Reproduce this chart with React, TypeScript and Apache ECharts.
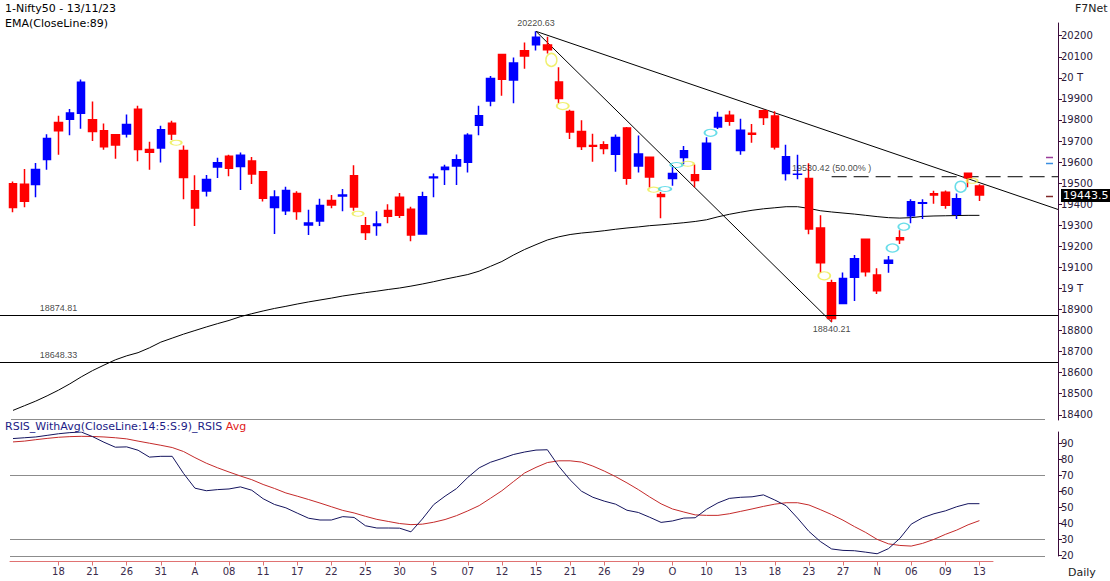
import React, { useEffect, useRef } from "react";
import * as echarts from "echarts";

const dates = [
  "2023-07-12","2023-07-13","2023-07-14","2023-07-17","2023-07-18","2023-07-19","2023-07-20","2023-07-21","2023-07-24","2023-07-25","2023-07-26","2023-07-27","2023-07-28","2023-07-31",
  "2023-08-01","2023-08-02","2023-08-03","2023-08-04","2023-08-07","2023-08-08","2023-08-09","2023-08-10","2023-08-11","2023-08-14","2023-08-16","2023-08-17","2023-08-18","2023-08-21","2023-08-22","2023-08-23","2023-08-24","2023-08-25","2023-08-28","2023-08-29","2023-08-30","2023-08-31",
  "2023-09-01","2023-09-04","2023-09-05","2023-09-06","2023-09-07","2023-09-08","2023-09-11","2023-09-12","2023-09-13","2023-09-14","2023-09-15","2023-09-18","2023-09-20","2023-09-21","2023-09-22","2023-09-25","2023-09-26","2023-09-27","2023-09-28","2023-09-29",
  "2023-10-03","2023-10-04","2023-10-05","2023-10-06","2023-10-09","2023-10-10","2023-10-11","2023-10-12","2023-10-13","2023-10-16","2023-10-17","2023-10-18","2023-10-19","2023-10-20","2023-10-23","2023-10-25","2023-10-26","2023-10-27","2023-10-30","2023-10-31",
  "2023-11-01","2023-11-02","2023-11-03","2023-11-06","2023-11-07","2023-11-08","2023-11-09","2023-11-10","2023-11-12","2023-11-13",
];

const openP = [
  19497.45,19495.2,19493.45,19612.15,19787.5,19802.95,19831.7,19800.45,19748.45,19729.35,19733.35,19850.9,19659.75,19666.35,
  19784,19655.4,19463.75,19462.8,19576.85,19627.2,19578.8,19605.55,19554.25,19383.95,19369,19450.55,19301.75,19320.65,19417.1,19439.2,19535.15,19297.4,19298.35,19370,19433.45,19375.55,
  19258.15,19525.05,19564.5,19581.2,19598.65,19774.8,19890,20110.15,19989.5,20127.95,20156.45,20155.95,19980.75,19840.55,19744.85,19678.2,19682.8,19637.05,19761.8,19581.2,
  19622.4,19446.3,19521.45,19621.2,19539.45,19565.65,19767,19822.7,19654.55,19737.25,19843.2,19819.3,19545.2,19542.15,19521.6,19286.45,19027.25,18928.75,19053.4,19232.95,
  19064.05,19120,19241,19345.6,19404.15,19449.6,19457.1,19351.85,19547.25,19486.85,
];
const highP = [
  19507.7,19567,19595.35,19731.85,19819.45,19851.7,19991.85,19887.4,19782.8,19729.35,19825.6,19867.55,19695.9,19772.75,
  19795.6,19678.25,19537.65,19538.85,19620.45,19634.4,19645.5,19623.6,19557.75,19465.85,19482.75,19461.55,19373.55,19425.95,19443.5,19472.05,19584.45,19339.55,19366.85,19400,19452.8,19388.2,
  19458.55,19545.15,19587.05,19636.45,19737,19867.15,20008.15,20110.35,20096.9,20167.65,20220.63,20195.35,20050.35,19848.75,19798.65,19734.15,19699.35,19730.7,19766.65,19726.25,
  19623.2,19457.8,19576.95,19675.75,19588.95,19717.8,19839.2,19843.65,19805.4,19781.3,19849.75,19840.95,19681.8,19635.3,19593.8,19347.3,19041.7,19076.15,19158.5,19233.7,
  19096.2,19154.2,19276.25,19423.5,19423.2,19463.9,19464.4,19451.3,19547.25,19494.4,
];
const lowP = [
  19361.75,19385.8,19433.1,19562.95,19634.45,19727.45,19758.4,19700,19658.3,19615.95,19716.7,19603.55,19563.1,19597.6,
  19704.6,19423.55,19296.45,19436.45,19524.8,19533.1,19467.5,19495.4,19412.75,19257.9,19348.25,19326.1,19253.6,19296.3,19381.3,19366.6,19369,19229.7,19249.7,19309.1,19334.75,19223.65,
  19255.7,19432.85,19490.75,19491.5,19550.05,19727.05,19865.35,19914.65,19879.85,20043.45,20129.7,20115.7,19878.85,19709.95,19657.5,19601.55,19637.45,19554,19492.1,19551.05,
  19479.65,19333.6,19487.3,19589.4,19480.5,19565.45,19756.95,19772.65,19635.3,19691.75,19775.65,19659.95,19512.35,19518.85,19257.85,19074.15,18840.21,18926.65,18940,19056.65,
  18973.7,19074.15,19210.9,19309.7,19329.1,19401.65,19378.65,19329.45,19480.5,19414.75,
];
const closeP = [
  19384.3,19413.75,19564.5,19711.45,19749.25,19833.15,19979.15,19745,19672.35,19680.6,19778.3,19659.9,19646.05,19753.8,
  19733.55,19526.55,19381.65,19517,19597.3,19570.85,19632.55,19543.1,19428.3,19434.55,19465,19365.25,19310.15,19393.6,19396.45,19444,19386.7,19265.8,19306.05,19342.65,19347.45,19253.8,
  19435.3,19528.8,19574.9,19611.05,19727.05,19819.95,19996.35,19993.2,20070,20103.1,20192.35,20133.3,19901.4,19742.35,19674.25,19674.55,19664.7,19716.45,19523.55,19638.3,
  19528.75,19436.1,19545.75,19653.5,19512.35,19689.85,19811.35,19794,19751.05,19731.75,19811.5,19671.1,19624.7,19542.65,19281.75,19122.15,18857.25,19047.25,19140.9,19079.6,
  18989.15,19133.25,19230.6,19411.75,19406.7,19443.5,19395.3,19425.35,19525.55,19443.5,
];

const ema89 = [
  18421,18443,18465,18490,18517,18547,18580,18610,18636,18661,18680,18695,18718,18745,18764,18783,18800,18817,18833,18848,
  18866,18880,18893,18905,18915,18926,18936,18945,18954,18964,18972,18980,18987,18995,19002,19011,19021,19032,19044,19055,
  19066,19082,19105,19128,19158,19185,19208,19230,19245,19256,19263,19268,19274,19281,19287,19292,19298,19302,19307,19312,
  19318,19326,19340,19352,19362,19371,19378,19383,19388,19388,19380,19369,19363,19358,19353,19347,19341,19336,19334,19336,
  19342,19344,19345,19346,19347,19347,
];

const rsis = [
  92.8,93.3,93.8,94.8,95.8,96.5,96.9,94,90.5,87.4,87.6,85.5,81.2,81.7,81.7,71,61.8,60.2,60.9,61.3,
  62.6,60.5,55.2,51.6,49.5,46.2,43,41.9,41.9,44,43.5,38.3,36.9,36.9,36.8,34.5,42.5,51.5,56.8,61.5,
  68.5,74.5,78,80.3,82.8,84.4,85.6,85.8,75.5,67,59.9,56.1,53.7,51.8,48,46.6,43.6,40.4,41.3,43.1,
  43.3,48.6,52.6,55.4,56.1,56.4,57.6,54.4,50.8,43.1,34.8,28.5,23.8,22.9,22.7,21.8,20.8,24,30.4,39.3,
  43.3,45.8,47.6,50.2,52.1,52.1,
];
const rsisAvg = [
  90.7,91.2,92.1,92.9,93.6,94,94.2,94.1,93.8,93.3,92.6,91.2,89.9,88.6,87.2,84.7,80.9,77.4,74.5,71.9,
  69.4,67.1,64.1,61.6,58.8,56.8,54.7,52.5,50.2,47.9,46.3,44.2,42.3,41,39.7,39,39.3,40.5,42.2,44.6,
  47.6,50.9,55.5,60.2,65.8,71.3,74.8,77.8,78.9,78.9,78.1,75.6,72.5,69,65.1,60.9,56.3,52,48.8,46.9,
  45.1,44.8,44.8,45.8,47.3,48.8,50.4,51.8,52.7,52.7,51.3,48.4,45.3,41.8,37.8,34.1,29.8,27,26,25.6,
  27.3,29.8,32.9,35.6,38.9,41.5,
];

const priceTicks = [18400,18500,18600,18700,18800,18900,19000,19100,19200,19300,19400,19500,19600,19700,19800,19900,20000,20100,20200];
const rsiTicks = [20,30,40,50,60,70,80,90];
const rsiGuideLevels = [70, 30];

const xTickDates = ["2023-07-18","2023-07-21","2023-07-26","2023-07-31","2023-08-03","2023-08-08","2023-08-11","2023-08-17","2023-08-22","2023-08-25","2023-08-30","2023-09-04","2023-09-07","2023-09-12","2023-09-15","2023-09-21","2023-09-26","2023-09-29","2023-10-05","2023-10-10","2023-10-13","2023-10-18","2023-10-23","2023-10-27","2023-11-01","2023-11-06","2023-11-09","2023-11-13"];
const xTickLabels = ["18","21","26","31","A","08","11","17","22","25","30","S","07","12","15","21","26","29","O","10","13","18","23","27","N","06","09","13"];

const supportLevels = [18874.81, 18648.33];
const swingDates = ["2023-09-15", "2023-10-26"];
const swingValues = [20220.63, 18840.21];
const retracementLevel = 19530.42;
const trendEndValue = 19375;
const lastValue = 19443.5;
const sideMarkValues = [19623, 19595, 19439];

const yellowDates = ["2023-08-01","2023-08-24","2023-09-18","2023-09-20","2023-10-03","2023-10-06","2023-10-25","2023-11-12"];
const yellowValues = [19692, 19355, 20085, 19866, 19469, 19592, 19060, 19511];
const cyanDates = ["2023-10-04","2023-10-05","2023-10-10","2023-11-02","2023-11-03","2023-11-10"];
const cyanValues = [19472, 19586, 19739, 19192, 19293, 19483];

// styling (sizes of ellipse markers)
const yellowSizes = [[11,5],[11,5],[11,13],[12,7],[11,5],[12,5],[12,8],[11,5]];
const cyanSizes = [[12,5],[12,5],[12,7],[12,8],[11,7],[11,11]];
const sideMarkColors = ["#9a3c9a", "#3a8ee0", "#802828"];

const FONT = '"DejaVu Sans", Verdana, sans-serif';
const SMALL_FONT = '"Liberation Sans", Arial, sans-serif';
const X0 = -1.1434;
const X1 = 91.91;

function idx(d: string) {
  return dates.indexOf(d);
}

function buildOption(): any {
  const candleData = dates.map((_, i) => [i, openP[i], closeP[i], lowP[i], highP[i]]);
  const tickIdx = xTickDates.map((d) => idx(d));
  const iHigh = idx(swingDates[0]);
  const iLow = idx(swingDates[1]);
  const ellipse = (ds: string[], vs: number[], sizes: number[][], color: string) => ({
    type: "scatter",
    xAxisIndex: 0,
    yAxisIndex: 0,
    silent: true,
    symbol: "circle",
    symbolOffset: [4, 0],
    itemStyle: { color: "rgba(255,255,255,0)", borderColor: color, borderWidth: 1.5 },
    data: ds.map((d, k) => ({ value: [idx(d), vs[k]], symbolSize: sizes[k] })),
    z: 4,
  });
  const annLabel = { show: true, color: "#111", fontFamily: SMALL_FONT, fontSize: 9 };
  return {
    animation: false,
    textStyle: { fontFamily: FONT },
    grid: [
      { left: 0, right: 52, top: 23, height: 397 },
      { left: 0, right: 52, top: 432, height: 124 },
      { left: 10, width: 983, top: 560.5, height: 1 },
    ],
    xAxis: [
      { type: "value", gridIndex: 0, min: X0, max: X1, show: false },
      { type: "value", gridIndex: 1, min: X0, max: X1, show: false },
      {
        type: "value",
        gridIndex: 2,
        min: -0.264,
        max: 86.19,
        position: "bottom",
        splitLine: { show: false },
        axisLine: { show: true, onZero: false, lineStyle: { color: "#e07272", width: 1 } },
        axisTick: { show: true, length: 4, customValues: tickIdx, lineStyle: { color: "#e07272" } },
        axisLabel: {
          customValues: tickIdx,
          formatter: (v: number) => {
            const k = tickIdx.indexOf(Math.round(v));
            return k >= 0 ? xTickLabels[k] : "";
          },
          color: "#3a2a4a",
          fontSize: 10,
          margin: 5,
          fontFamily: FONT,
        },
      },
    ],
    yAxis: [
      {
        type: "value",
        gridIndex: 0,
        position: "right",
        min: 18375.3,
        max: 20260.3,
        splitLine: { show: false },
        axisLine: { show: true, onZero: false, lineStyle: { color: "#3a0a3a", width: 1 } },
        axisTick: { show: true, length: 4, customValues: priceTicks, lineStyle: { color: "#3a0a3a" } },
        axisLabel: {
          customValues: priceTicks,
          formatter: (v: number) => (v % 1000 === 0 ? `${v / 1000} T` : String(v)),
          color: "#2a1a3a",
          fontSize: 10,
          margin: 3,
          fontFamily: FONT,
        },
      },
      {
        type: "value",
        gridIndex: 1,
        position: "right",
        min: 19.4,
        max: 96.9,
        splitLine: { show: false },
        axisLine: { show: true, onZero: false, lineStyle: { color: "#3a0a3a", width: 1 } },
        axisTick: { show: true, length: 4, customValues: rsiTicks, lineStyle: { color: "#3a0a3a" } },
        axisLabel: {
          customValues: rsiTicks,
          color: "#2a1a3a",
          fontSize: 10,
          margin: 3,
          fontFamily: FONT,
        },
      },
      { type: "value", gridIndex: 2, show: false, min: 0, max: 1 },
    ],
    series: [
      {
        type: "candlestick",
        xAxisIndex: 0,
        yAxisIndex: 0,
        data: candleData,
        barWidth: 8,
        silent: true,
        itemStyle: {
          color: "#0000ff",
          color0: "#ff0000",
          borderColor: "#0000ff",
          borderColor0: "#ff0000",
          borderWidth: 1.5,
        },
        z: 3,
      },
      {
        type: "line",
        xAxisIndex: 0,
        yAxisIndex: 0,
        data: dates.map((_, i) => [i, ema89[i]]),
        symbol: "none",
        silent: true,
        lineStyle: { color: "#000", width: 1 },
        markLine: {
          silent: true,
          symbol: ["none", "none"],
          label: { show: false },
          lineStyle: { color: "#000", width: 1, type: "solid" },
          data: supportLevels.map((v) => ({ yAxis: v })),
        },
        z: 2,
      },
      {
        type: "line",
        xAxisIndex: 0,
        yAxisIndex: 0,
        symbol: "none",
        silent: true,
        lineStyle: { color: "#000", width: 1 },
        data: [[iHigh, swingValues[0]], [X1, trendEndValue]],
        z: 2,
      },
      {
        type: "line",
        xAxisIndex: 0,
        yAxisIndex: 0,
        symbol: "none",
        silent: true,
        lineStyle: { color: "#000", width: 1 },
        data: [[iHigh, swingValues[0]], [iLow, swingValues[1]]],
        z: 2,
      },
      {
        type: "line",
        xAxisIndex: 0,
        yAxisIndex: 0,
        symbol: "none",
        silent: true,
        lineStyle: { color: "#000", width: 1, type: [15, 7] },
        data: [[iLow, retracementLevel], [X1, retracementLevel]],
        z: 2,
      },
      ellipse(yellowDates, yellowValues, yellowSizes, "#ecec4c"),
      ellipse(cyanDates, cyanValues, cyanSizes, "#44d4e4"),
      {
        type: "scatter",
        xAxisIndex: 0,
        yAxisIndex: 0,
        silent: true,
        symbolSize: 1,
        itemStyle: { color: "rgba(0,0,0,0)" },
        label: annLabel,
        data: [
          { value: [iHigh, swingValues[0]], label: { ...annLabel, position: "top", distance: 3, formatter: swingValues[0].toFixed(2) } },
          { value: [iLow, swingValues[1]], label: { ...annLabel, position: "bottom", distance: 2, formatter: swingValues[1].toFixed(2) } },
          { value: [iLow, retracementLevel], label: { ...annLabel, position: "top", distance: 4, formatter: `${retracementLevel.toFixed(2)} (50.00% )` } },
          ...supportLevels.map((v) => ({ value: [4, v], label: { ...annLabel, position: "top", distance: 2, formatter: v.toFixed(2) } })),
        ],
        z: 5,
      },
      {
        type: "line",
        xAxisIndex: 1,
        yAxisIndex: 1,
        data: dates.map((_, i) => [i, rsisAvg[i]]),
        symbol: "none",
        silent: true,
        lineStyle: { color: "#c42a2a", width: 1 },
      },
      {
        type: "line",
        xAxisIndex: 1,
        yAxisIndex: 1,
        data: dates.map((_, i) => [i, rsis[i]]),
        symbol: "none",
        silent: true,
        lineStyle: { color: "#14145e", width: 1 },
      },
    ],
  };
}

function buildGraphics(chart: any) {
  const py = (v: number) => chart.convertToPixel({ yAxisIndex: 0 }, v) as number;
  const ry = (v: number) => chart.convertToPixel({ yAxisIndex: 1 }, v) as number;
  const els: any[] = [];
  const txt = (text: string, x: number, y: number, extra: any = {}, z = 10) => ({
    type: "text",
    silent: true,
    style: { text, x, y, fill: "#000", fontSize: 11, fontFamily: FONT, verticalAlign: "middle", ...extra },
    z,
  });
  els.push(txt("1-Nifty50 - 13/11/23", 5, 8));
  els.push(txt("EMA(CloseLine:89)", 5, 23));
  els.push(txt("F7Net", 1075, 8, { fill: "#222" }));
  els.push(txt("Daily", 1068, 572, { fill: "#222" }));
  els.push({
    type: "text",
    silent: true,
    style: {
      text: "{a|RSIS_WithAvg(CloseLine:14:5:S:9)_RSIS} {b|Avg}",
      x: 5,
      y: 426,
      verticalAlign: "middle",
      fontSize: 11,
      fontFamily: FONT,
      rich: {
        a: { fill: "#1c1c86", fontSize: 11, fontFamily: FONT },
        b: { fill: "#e02020", fontSize: 11, fontFamily: FONT },
      },
    },
    z: 10,
  });
  const hline = (y: number, x1: number, x2: number, stroke: string, w = 1) => ({
    type: "line",
    silent: true,
    shape: { x1, y1: y, x2, y2: y },
    style: { stroke, lineWidth: w },
    z: 1,
  });
  els.push(hline(419.5, 11, 1045, "#8c8c8c"));
  rsiGuideLevels.forEach((v) => els.push(hline(Math.round(ry(v)) + 0.5, 10, 1045, "#8c8c8c")));
  els.push(hline(556.5, 10, 1045, "#8c8c8c"));
  sideMarkValues.forEach((v, k) => els.push(hline(Math.round(py(v)) + 0.5, 1046, 1053, sideMarkColors[k], 1.5)));
  const yl = py(lastValue);
  els.push({ type: "rect", silent: true, shape: { x: 1061, y: yl - 6, width: 60, height: 13 }, style: { fill: "#000" }, z: 11 });
  els.push(txt(String(lastValue), 1063, yl + 0.5, { fill: "#fff", fontSize: 11 }, 12));
  return els;
}

export default function App() {
  const ref = useRef<HTMLDivElement>(null);
  useEffect(() => {
    document.body.style.margin = "0";
    const chart = echarts.init(ref.current!, null, { renderer: "svg" });
    chart.setOption(buildOption());
    chart.setOption({ graphic: buildGraphics(chart) });
    return () => chart.dispose();
  }, []);
  return <div ref={ref} style={{ width: 1110, height: 581 }} />;
}
